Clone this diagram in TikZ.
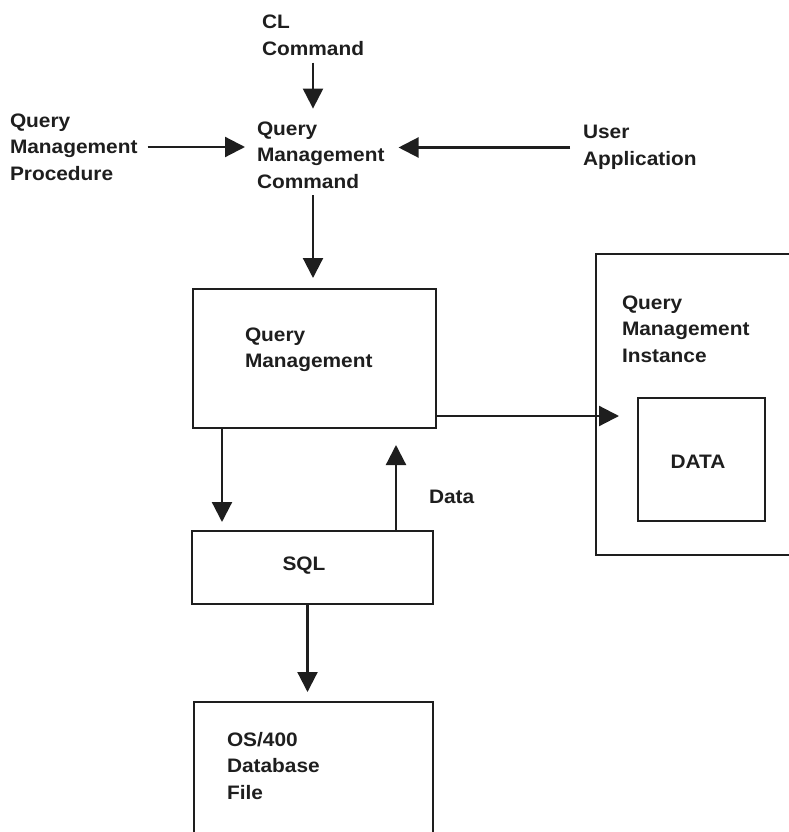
\documentclass[tikz,border=0pt]{standalone}
\usepackage{fontspec}
\newfontfamily\diafont{Liberation Sans}[FakeStretch=1.07]
\usetikzlibrary{arrows.meta}
\definecolor{ink}{HTML}{1E1E1E}
\begin{document}
\begin{tikzpicture}[x=1pt,y=-1pt,
  every node/.style={font=\diafont\bfseries\fontsize{19.5}{26.5}\selectfont, text=ink, inner sep=0pt, outer sep=0pt},
  txt/.style={align=left, anchor=west},
  box/.style={draw=ink, line width=2.2pt, anchor=north west, minimum width=#1},
  arr/.style={draw=ink, line width=2.2pt, -{Triangle[length=20pt,width=20pt]}}]
\useasboundingbox (0,0) rectangle (789,832);
\clip (0,0) rectangle (789,832);
% text nodes
\node[txt] (cl) at (262,35.5) {CL\\Command};
\node[txt] (qmp) at (10,147) {Query\\Management\\Procedure};
\node[txt] (qmc) at (257,155) {Query\\Management\\Command};
\node[txt] (ua) at (583,147.5) {User\\Application};
% boxes
\node[box=243pt, minimum height=139pt] (qm) at (193,289) {};
\node[box=241pt, minimum height=73pt] (sql) at (192,531) {};
\node[box=239pt, minimum height=200pt] (os) at (194,702) {};
\node[box=250pt, minimum height=301pt] (inst) at (596,254) {};
\node[box=127pt, minimum height=123pt] (data) at (638,398) {};
% box texts
\node[txt] (qmt) at (245,350) {Query\\Management};
\node[txt] (qmit) at (622,329) {Query\\Management\\Instance};
\node (datat) at (698,462) {DATA};
\node (sqlt) at (304,566) {SQL};
\node[txt] (ost) at (227,766) {OS/400\\Database\\File};
\node[txt] (dlab) at (429,497) {Data};
% connectors
\draw[arr, shorten <=7pt, shorten >=13pt] (cl.south) -- (cl.south |- qmc.north);
\draw[arr, shorten <=10pt, shorten >=12pt] (qmp.east) -- (qmp.east -| qmc.west);
\draw[arr, shorten <=13pt, shorten >=14pt] (ua.west) -- (ua.west -| qmc.east);
\draw[arr, shorten <=7pt, shorten >=11pt] (cl.south |- qmc.south) -- (cl.south |- qm.north);
\draw[arr, shorten >=9pt] ([xshift=29pt]qm.south west) -- ([xshift=29pt]qm.south west |- sql.north);
\draw[arr, shorten >=17pt] ([xshift=-37pt]sql.north east) -- ([xshift=-37pt]sql.north east |- qm.south);
\draw[arr, shorten >=19pt] ([yshift=12pt]qm.south east) -- ([yshift=12pt]qm.south east -| data.west);
\draw[arr, shorten >=10pt] ([xshift=-5pt]sql.south) -- ([xshift=-5pt]sql.south |- os.north);
\end{tikzpicture}
\end{document}
